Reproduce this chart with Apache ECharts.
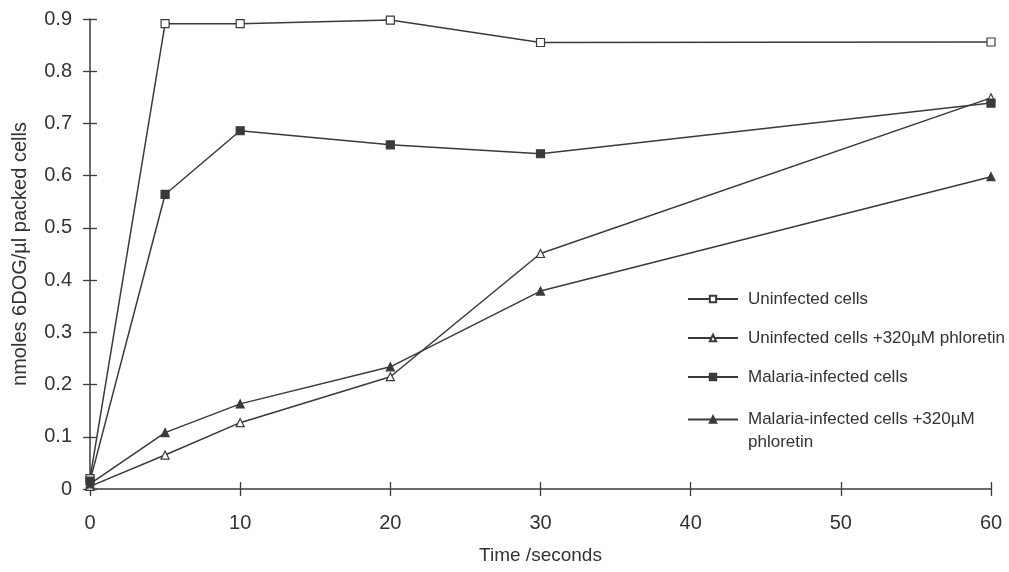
<!DOCTYPE html>
<html>
<head>
<meta charset="utf-8">
<script src="https://cdn.jsdelivr.net/npm/echarts@6/dist/echarts.min.js"></script>
<style>
  html, body { margin: 0; padding: 0; background: #fff; }
  #chart { width: 1009px; height: 572px; }
</style>
</head>
<body>
<div id="chart"></div>
<script>
// 6-deoxyglucose uptake over time (nmoles per µl packed cells)
const times = [0, 5, 10, 20, 30, 60];
const uninfected = [0.02, 0.891, 0.891, 0.898, 0.855, 0.856];
const uninfectedPhloretin = [0.005, 0.065, 0.127, 0.215, 0.451, 0.749];
const malaria = [0.015, 0.564, 0.686, 0.659, 0.642, 0.739];
const malariaPhloretin = [0.01, 0.108, 0.163, 0.234, 0.379, 0.598];

const seriesNames = [
  'Uninfected cells',
  'Uninfected cells +320µM phloretin',
  'Malaria-infected cells',
  'Malaria-infected cells +320µM phloretin'
];
const xTicks = { min: 0, max: 60, interval: 10 };
const yTicks = { min: 0, max: 0.9, interval: 0.1 };

const ink = '#3a3a3a';
const font = '"Liberation Sans", Arial, Helvetica, sans-serif';

function pairs(values) {
  return times.map((t, i) => [t, values[i]]);
}

function lineSeries(name, values, symbol, fill) {
  return {
    name: name,
    type: 'line',
    data: pairs(values),
    symbol: symbol,
    symbolSize: 8,
    showSymbol: true,
    lineStyle: { color: ink, width: 1.5 },
    itemStyle: { color: fill, borderColor: ink, borderWidth: 1.2 },
    emphasis: { disabled: true },
    animation: false,
    z: 3
  };
}

const chart = echarts.init(document.getElementById('chart'), null, { renderer: 'canvas' });

const axisBase = {
  type: 'value',
  splitLine: { show: false },
  axisLine: { show: true, lineStyle: { color: ink, width: 1.5 } },
  axisTick: { show: true, length: 7, lineStyle: { color: ink, width: 1.3 } }
};

const legendText = { fontSize: 17, color: '#333', fontFamily: font, lineHeight: 20, padding: [0, 0, 0, 5] };

chart.setOption({
  backgroundColor: '#ffffff',
  animation: false,
  textStyle: { fontFamily: font, color: '#333' },
  grid: { left: 90, right: 18, top: 19, bottom: 83, containLabel: false },
  xAxis: [
    Object.assign({}, axisBase, xTicks, {
      position: 'bottom',
      name: 'Time /seconds',
      nameLocation: 'middle',
      nameGap: 57,
      nameTextStyle: { fontSize: 19, color: '#333', fontFamily: font },
      axisLabel: { fontSize: 20, color: '#333', margin: 24, fontFamily: font }
    }),
    Object.assign({}, axisBase, xTicks, {
      position: 'bottom',
      axisLine: { show: false },
      axisLabel: { show: false },
      axisTick: { show: true, inside: true, length: 7, lineStyle: { color: ink, width: 1.3 } }
    })
  ],
  yAxis: [
    Object.assign({}, axisBase, yTicks, {
      position: 'left',
      name: 'nmoles 6DOG/µl packed cells',
      nameLocation: 'middle',
      nameGap: 60,
      nameTextStyle: { fontSize: 20, color: '#333', fontFamily: font },
      axisLabel: { fontSize: 20, color: '#333', margin: 18, fontFamily: font,
        formatter: v => (v === 0 ? '0' : v.toFixed(1)) }
    }),
    Object.assign({}, axisBase, yTicks, {
      position: 'left',
      axisLine: { show: false },
      axisLabel: { show: false },
      axisTick: { show: true, inside: true, length: 7, lineStyle: { color: ink, width: 1.3 } }
    })
  ],
  legend: [
    {
      data: seriesNames.slice(0, 3),
      orient: 'vertical',
      left: 687,
      top: 289,
      padding: 0,
      itemWidth: 50,
      itemHeight: 8,
      itemGap: 19,
      selectedMode: false,
      textStyle: legendText
    },
    {
      // two-line label: a leading blank line keeps the first line level with the icon
      data: seriesNames.slice(3),
      orient: 'vertical',
      left: 687,
      top: 385,
      padding: 0,
      itemWidth: 50,
      itemHeight: 8,
      selectedMode: false,
      formatter: name => ' \n' + name.replace(' phloretin', '\nphloretin'),
      textStyle: Object.assign({}, legendText, { lineHeight: 23 })
    }
  ],
  series: [
    lineSeries(seriesNames[0], uninfected, 'rect', '#ffffff'),
    lineSeries(seriesNames[1], uninfectedPhloretin, 'triangle', '#ffffff'),
    lineSeries(seriesNames[2], malaria, 'rect', ink),
    lineSeries(seriesNames[3], malariaPhloretin, 'triangle', ink)
  ]
});
</script>
</body>
</html>
